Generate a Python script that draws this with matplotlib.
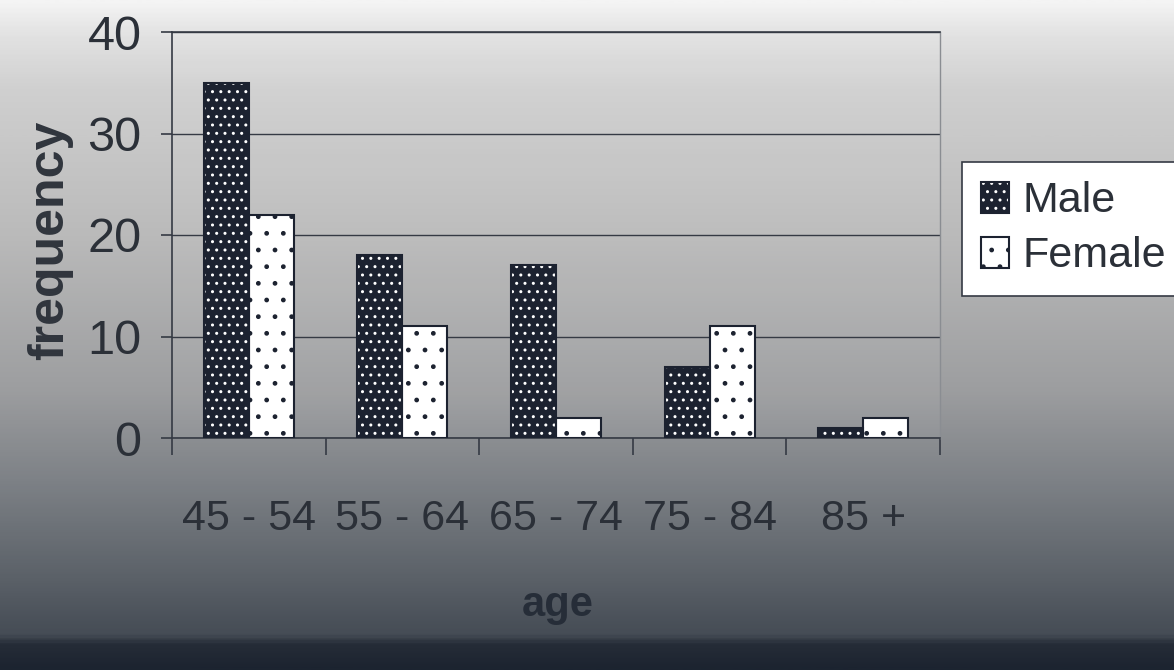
import numpy as np
import matplotlib
matplotlib.use("Agg")
import matplotlib.pyplot as plt
from matplotlib.colors import LinearSegmentedColormap
from matplotlib.patches import Patch

# age groups and counts
age_groups = ["45 - 54", "55 - 64", "65 - 74", "75 - 84", "85 +"]
male = [35, 18, 17, 7, 1]
female = [22, 11, 2, 11, 2]

sans = ["Liberation Sans", "DejaVu Sans"]
text_color = "#2b3038"
dark = "#1c2230"

fig = plt.figure(figsize=(11.74, 6.70), dpi=100)

# page background: light at the top, darkening towards the bottom
bg = fig.add_axes([0, 0, 1, 1], zorder=-10)
bg_cmap = LinearSegmentedColormap.from_list("page", [
    (0.00, "#f4f4f4"), (0.05, "#e2e2e2"), (0.13, "#d0d0d0"), (0.35, "#bababa"),
    (0.58, "#9d9ea0"), (0.72, "#7d8186"), (0.86, "#5c6269"),
    (0.95, "#454c55"), (0.965, "#252c37"), (1.00, "#1c2430")])
grad = np.linspace(0, 1, 400).reshape(-1, 1)
bg.imshow(grad, aspect="auto", cmap=bg_cmap, extent=[0, 1, 0, 1], origin="upper")
bg.set_axis_off()

ax = fig.add_axes([172 / 1174, 1 - 438 / 670, 768 / 1174, 406 / 670])
ax.set_facecolor((1, 1, 1, 0.05))

x = np.arange(len(age_groups))
w = 0.293

# Male: dark bars with white dots, Female: white bars with dark dots
ax.bar(x - w / 2, male, w, color=dark, edgecolor="white", hatch="..", linewidth=0, zorder=3)
ax.bar(x - w / 2, male, w, color="none", edgecolor=dark, linewidth=1.5, zorder=4)
ax.bar(x + w / 2, female, w, color="white", edgecolor=dark, hatch=".", linewidth=0, zorder=3)
ax.bar(x + w / 2, female, w, color="none", edgecolor=dark, linewidth=1.5, zorder=4)

ax.set_xlim(-0.5, len(age_groups) - 0.5)
ax.set_ylim(0, 40)
ax.set_yticks([0, 10, 20, 30, 40])
ax.yaxis.grid(True, color="#353a44", linewidth=1.0, zorder=1)
ax.set_axisbelow(True)

for side in ["left", "bottom", "top"]:
    ax.spines[side].set_color("#353a44")
    ax.spines[side].set_linewidth(1.2)
ax.spines["right"].set_color("#8a8d92")
ax.spines["right"].set_linewidth(1.0)

ax.set_xticks(x)
ax.set_xticklabels(age_groups)
ax.set_xticks(np.arange(len(age_groups) + 1) - 0.5, minor=True)
ax.tick_params(axis="x", which="major", length=0, pad=44, labelsize=31, labelcolor=text_color)
ax.tick_params(axis="x", which="minor", length=12, width=1.2, color="#353a44", direction="out")
ax.tick_params(axis="y", length=8, width=1.2, color="#353a44", pad=14, labelsize=35, labelcolor=text_color)
for lab in ax.get_xticklabels() + ax.get_yticklabels():
    lab.set_family(sans)

fig.text(50 / 1174, 1 - 240 / 670, "frequency", rotation=90, ha="center", va="center",
         fontsize=36, fontweight="bold", color="#30353d", family=sans)
fig.text(558 / 1174, 1 - 605 / 670, "age", ha="center", va="center",
         fontsize=30, fontweight="bold", color="#262d38", family=sans)

handles = [
    (Patch(facecolor=dark, edgecolor="white", hatch="..", linewidth=0),
     Patch(facecolor="none", edgecolor=dark, linewidth=1.5)),
    (Patch(facecolor="white", edgecolor=dark, hatch=".", linewidth=0),
     Patch(facecolor="none", edgecolor=dark, linewidth=1.5)),
]
leg = fig.legend(handles, ["Male", "Female"], loc="upper left",
                 bbox_to_anchor=(962 / 1174, 1 - 162 / 670), frameon=True, fancybox=False,
                 prop={"family": sans, "size": 31}, handlelength=0.65, handleheight=0.75,
                 handletextpad=0.3, borderpad=0.45, labelspacing=0.35, borderaxespad=0)
leg.get_frame().set_edgecolor("#353a44")
leg.get_frame().set_linewidth(1.2)
leg.get_frame().set_facecolor("white")
leg.get_frame().set_alpha(1)
for t in leg.get_texts():
    t.set_color(text_color)

fig.savefig("out.png", dpi=100)
